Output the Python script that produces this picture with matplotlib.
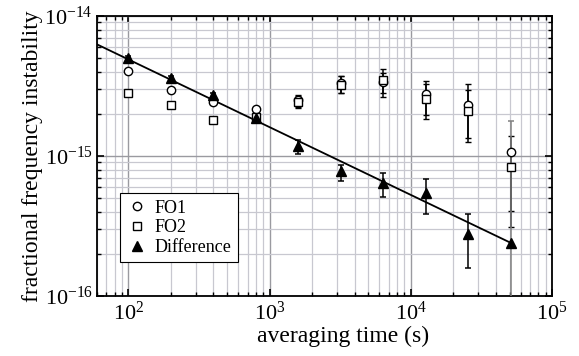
import numpy as np
import matplotlib
matplotlib.use("Agg")
import matplotlib.pyplot as plt
from matplotlib.lines import Line2D
from matplotlib.ticker import LogLocator, FixedLocator, FuncFormatter, NullFormatter

# averaging times (s)
tau = np.array([100, 200, 400, 800, 1600, 3200, 6400, 12800, 25600, 51200])

# FO1 (open circles): value, lower end, upper end of error bar
fo1 = np.array([4.05e-15, 2.96e-15, 2.44e-15, 2.17e-15, 2.50e-15,
                3.30e-15, 3.38e-15, 2.76e-15, 2.31e-15, 1.06e-15])
fo1_lo = np.array([3.95e-15, 2.90e-15, 2.38e-15, 2.11e-15, 2.25e-15,
                   2.83e-15, 2.65e-15, 1.96e-15, 1.34e-15, 4.05e-16])
fo1_hi = np.array([4.15e-15, 3.02e-15, 2.50e-15, 2.23e-15, 2.73e-15,
                   3.73e-15, 3.94e-15, 3.45e-15, 3.25e-15, 1.39e-15])

# FO2 (open squares)
fo2 = np.array([2.83e-15, 2.31e-15, 1.80e-15, 1.91e-15, 2.44e-15,
                3.21e-15, 3.49e-15, 2.54e-15, 2.11e-15, 8.3e-16])
fo2_lo = np.array([2.77e-15, 2.26e-15, 1.76e-15, 1.85e-15, 2.20e-15,
                   2.83e-15, 2.83e-15, 1.83e-15, 1.25e-15, 3.10e-16])
fo2_hi = np.array([2.89e-15, 2.36e-15, 1.84e-15, 1.97e-15, 2.70e-15,
                   3.73e-15, 4.16e-15, 3.27e-15, 2.96e-15, 1.10e-15])

# Difference (filled triangles)
diff = np.array([5.04e-15, 3.59e-15, 2.73e-15, 1.87e-15, 1.17e-15,
                 7.85e-16, 6.38e-16, 5.47e-16, 2.76e-16, 2.40e-16])
diff_lo = np.array([4.90e-15, 3.48e-15, 2.65e-15, 1.81e-15, 1.03e-15,
                    6.63e-16, 5.12e-16, 3.85e-16, 1.59e-16, 1.0e-17])
diff_hi = np.array([5.18e-15, 3.70e-15, 2.81e-15, 1.93e-15, 1.30e-15,
                    8.63e-16, 7.52e-16, 6.86e-16, 3.84e-16, 1.79e-15])

# white-noise fit through the difference: sigma = amp * (tau/100)^slope
fit_amp = 4.9e-15
fit_slope = -0.484
fit_tau = np.array([60, 51200])

# decade ticks
x_decades = [1e2, 1e3, 1e4, 1e5]
y_decades = [1e-16, 1e-15, 1e-14]

plt.rcParams['font.family'] = ['Liberation Serif', 'DejaVu Serif']
plt.rcParams['mathtext.fontset'] = 'custom'
plt.rcParams['mathtext.rm'] = 'Liberation Serif'
plt.rcParams['mathtext.it'] = 'Liberation Serif:italic'


def errs(val, lo, hi):
    return [val - lo, hi - val]


fig = plt.figure(figsize=(5.79, 3.56), dpi=100)
ax = fig.add_axes([0.1675, 0.1685, 0.786, 0.7865])
ax.set_xscale('log')
ax.set_yscale('log')
ax.set_xlim(60, 1e5)
ax.set_ylim(1e-16, 1e-14)

ax.grid(True, which='major', color='#9a9aa0', lw=1.0)
ax.grid(True, which='minor', color='#c8c8d0', lw=0.9)
ax.set_axisbelow(True)

ax.plot(fit_tau, fit_amp * (fit_tau / 100.0) ** fit_slope, color='black', lw=1.3, zorder=3)

kw = dict(ls='none', elinewidth=1.1, capsize=2.5, capthick=1.1, zorder=4)
ax.errorbar(tau, fo1, yerr=errs(fo1, fo1_lo, fo1_hi), fmt='o', ms=6, ecolor='black',
            mfc='white', mec='black', mew=1.0, **kw)
ax.errorbar(tau, fo2, yerr=errs(fo2, fo2_lo, fo2_hi), fmt='s', ms=5.5, ecolor='black',
            mfc='white', mec='black', mew=1.0, **kw)
d_err = errs(diff, diff_lo, diff_hi)
ax.errorbar(tau[:-1], diff[:-1], yerr=[d_err[0][:-1], d_err[1][:-1]], ecolor='black',
            fmt='^', ms=7, mfc='black', mec='black', **kw)
# last point: lower bound runs off the axis, drawn in grey
ax.errorbar(tau[-1:], diff[-1:], yerr=[d_err[0][-1:], d_err[1][-1:]], ecolor='#808080',
            fmt='^', ms=7, mfc='black', mec='black', **kw)

ax.xaxis.set_major_locator(FixedLocator(x_decades))
ax.yaxis.set_major_locator(FixedLocator(y_decades))
ax.xaxis.set_minor_locator(LogLocator(base=10, subs=np.arange(2, 10), numticks=20))
ax.yaxis.set_minor_locator(LogLocator(base=10, subs=np.arange(2, 10), numticks=20))
ax.xaxis.set_minor_formatter(NullFormatter())
ax.yaxis.set_minor_formatter(NullFormatter())
fmt = FuncFormatter(lambda v, p: r'$\mathregular{10^{%d}}$' % round(np.log10(v)))
ax.xaxis.set_major_formatter(fmt)
ax.yaxis.set_major_formatter(fmt)

ax.tick_params(which='both', direction='in', top=True, right=True, labelsize=16, color='black')
ax.tick_params(which='major', length=5, width=1.2)
ax.tick_params(axis='x', which='major', pad=4)
ax.tick_params(axis='y', which='major', pad=3)
ax.tick_params(which='minor', length=3, width=1.0)
for s in ax.spines.values():
    s.set_linewidth(1.3)
    s.set_color('black')

ax.set_xlabel('averaging time (s)', fontsize=17, labelpad=0)
ax.xaxis.set_label_coords(0.54, -0.105)
ax.set_ylabel('fractional frequency instability', fontsize=17, labelpad=1)

handles = [Line2D([], [], ls='none', marker='o', ms=6, mfc='white', mec='black'),
           Line2D([], [], ls='none', marker='s', ms=5.5, mfc='white', mec='black'),
           Line2D([], [], ls='none', marker='^', ms=7, mfc='black', mec='black')]
leg = ax.legend(handles, ['FO1', 'FO2', 'Difference'], loc='lower left',
                bbox_to_anchor=(0.05, 0.12), fontsize=13, frameon=True,
                fancybox=False, edgecolor='black', framealpha=1, handletextpad=0.4,
                handlelength=1.2, borderpad=0.35, labelspacing=0.15, borderaxespad=0)
leg.get_frame().set_linewidth(0.8)

fig.savefig('out.png', dpi=100)
